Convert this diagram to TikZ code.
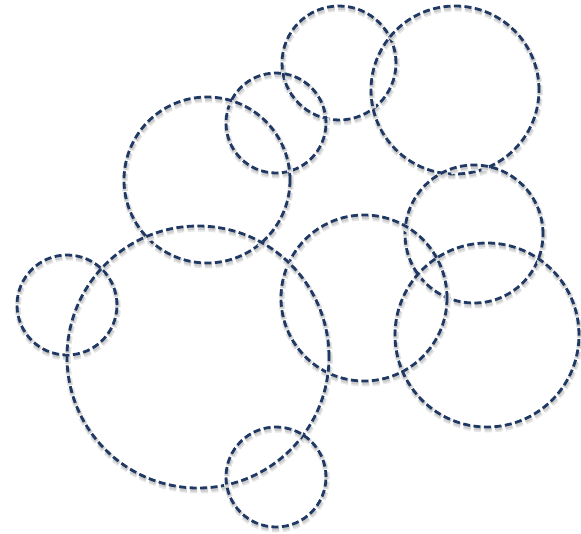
\documentclass[tikz,border=0pt]{standalone}
\usetikzlibrary{positioning}

\definecolor{ringblue}{HTML}{1F3864}

\begin{document}
\begin{tikzpicture}[
  x=1pt, y=-1pt,
  every node/.style={inner sep=0pt},
  ring/.style={
    circle, draw=ringblue, line width=2.8pt,
    dash pattern=on 7pt off 3.5pt,
    minimum size=#1,
    preaction={draw=black!10, line width=6pt,
               transform canvas={shift={(0.8pt,-2.5pt)}}},
    preaction={draw=black!20, line width=3.5pt, dash pattern=on 7pt off 3.5pt,
               transform canvas={shift={(0.6pt,-2pt)}}},
  },
]

% ── Frame ──────────────────────────────────────────────────────────
\useasboundingbox (0,0) rectangle (581,533);

% ── Top row ────────────────────────────────────────────────────────
\node[ring=114pt] (topS)  at (339,63)  {};
\node[ring=168pt] (topR)  at (455,90)  {};
\node[ring=100pt] (midS)  at (276,123) {};
\node[ring=166pt] (left)  at (207,180) {};

% ── Middle row ─────────────────────────────────────────────────────
\node[ring=138pt] (rightM) at (474,234) {};
\node[ring=100pt] (leftS)  at (67,305)  {};
\node[ring=166pt] (centre) at (364,298) {};
\node[ring=184pt] (rightB) at (487,335) {};

% ── Bottom ─────────────────────────────────────────────────────────
\node[ring=262pt] (big)  at (198,357) {};
\node[ring=100pt] (botS) at (276,477) {};

\end{tikzpicture}
\end{document}
